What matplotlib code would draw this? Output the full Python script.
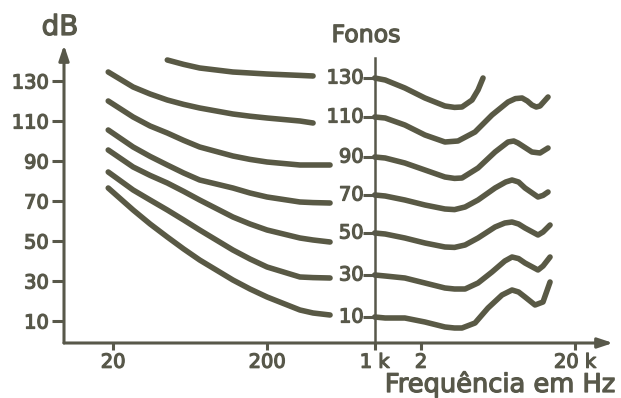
import numpy as np
import matplotlib
matplotlib.use("Agg")
import matplotlib.pyplot as plt
import matplotlib.patheffects as pe

ink = "#58584a"
curve_col = "#595945"

phons = [130, 110, 90, 70, 50, 30, 10]

# left branch (below 1 kHz), shared frequency grid
freq_low = [18.6, 27, 34.8, 45, 57.5, 73, 120, 155, 200, 327, 398, 513]
low_130 = [np.nan, np.nan, np.nan, 140.5, 138.3, 136.5, 134.5, 134, 133.5, 132.8, 132.5, np.nan]
low_110 = [134.5, 127, 123.5, 120.5, 118.3, 116.5, 113.5, 112.4, 111.5, 110, 109, np.nan]
low_90 = [120, 112, 107.5, 104, 100.3, 97, 92.5, 90.8, 89.5, 88, 88, 88]
low_70 = [105.5, 97, 92.3, 88, 84, 80.5, 76.5, 74, 72, 69.5, 69.2, 69]
low_50 = [95.5, 87, 82.8, 79, 74.8, 70.5, 62, 58.5, 55.5, 51.5, 50.5, 49.5]
low_30 = [84.5, 75.5, 70.5, 65.5, 60.5, 55.5, 45.5, 41, 37, 32, 31.7, 31.5]
low_10 = [76.5, 65.5, 58.5, 52, 46, 40.5, 30.5, 26, 22, 15.5, 14, 13]

# right branch (from 1 kHz up)
hf_130 = [1000, 1170, 1570, 2120, 2500, 2860, 3300, 3690, 4290, 4690, 5055]
hi_130 = [131.5, 130.5, 126.5, 121.5, 119.3, 117.5, 116.8, 117, 120.5, 125.5, 131.5]
hf_110 = [1000, 1170, 1570, 2120, 2860, 3475, 4484, 5780, 7345, 8200, 9060, 9800,
          10500, 11200, 11850, 13360]
hi_110 = [112, 111.5, 108, 103, 99.5, 100, 104.5, 113, 119.5, 121.2, 121.5, 120,
          118, 117, 117.5, 122]
hf_90 = [1000, 1170, 1570, 2120, 2860, 3300, 3690, 4690, 6050, 7345, 8000, 8530,
         10500, 11850, 13360]
hi_90 = [92, 91.5, 89, 85.5, 82, 81.3, 81.5, 86.5, 94.5, 99.5, 100, 99,
         94.5, 94, 96.5]
hf_70 = [1000, 1170, 1570, 2120, 2860, 3300, 3864, 4690, 6050, 7100, 7800, 8600,
         9470, 11500, 12400, 13360]
hi_70 = [73, 72.5, 70.5, 68, 66, 65.7, 67, 70.5, 76.5, 79.5, 80.5, 79.5,
         76.5, 72, 72.8, 74.5]
hf_50 = [1000, 1170, 1570, 2120, 2860, 3300, 3864, 4690, 6050, 7000, 7800, 8600,
         9470, 11500, 12400, 13770]
hi_50 = [54, 53.5, 51.5, 49, 47, 46.8, 48, 51.5, 57, 59, 59.5, 58.5,
         56.5, 53, 54.5, 58]
hf_30 = [1000, 1170, 1570, 2120, 2860, 3300, 3864, 4690, 5780, 7000, 7800, 8600,
         9470, 11500, 12400, 13770]
hi_30 = [33, 32.5, 31.5, 29, 26.5, 26, 26, 29, 34.5, 40, 42, 41.2,
         39, 35.5, 37.5, 42]
hf_10 = [1000, 1170, 1570, 2120, 2860, 3300, 3690, 4484, 5445, 6714, 7800, 8600,
         9470, 11000, 12390, 13770]
hi_10 = [12, 11.5, 11.5, 9.5, 7, 6.5, 6.5, 9, 16.5, 23, 25.5, 24.5,
         22, 18, 19.5, 29.5]

lows = [low_130, low_110, low_90, low_70, low_50, low_30, low_10]
highs = [(hf_130, hi_130), (hf_110, hi_110), (hf_90, hi_90), (hf_70, hi_70),
         (hf_50, hi_50), (hf_30, hi_30), (hf_10, hi_10)]

yticks = [10, 30, 50, 70, 90, 110, 130]
xticks = [20, 200, 1000, 2000, 20000]
xlabels = ["20", "200", "1 k", "2", "20 k"]

plt.rcParams["font.family"] = ["DejaVu Sans"]
# slightly heavier than regular, like the printed original
heavy = [pe.withStroke(linewidth=0.9, foreground=ink)]

fig = plt.figure(figsize=(6.21, 3.98), dpi=100)
ax = fig.add_axes([64 / 621, 55 / 398, 549 / 621, 298 / 398])
ax.set_xscale("log")
ax.set_xlim(9.6, 35300)
ax.set_ylim(-1, 148)

for low, (hf, hi) in zip(lows, highs):
    ax.plot(freq_low, low, color=curve_col, lw=4.0, solid_capstyle="round",
            solid_joinstyle="round")
    ax.plot(hf, hi, color=curve_col, lw=4.0, solid_capstyle="round",
            solid_joinstyle="round")

# phon scale on the 1 kHz axis
ax.axvline(1000, ymin=0, ymax=0.956, color=ink, lw=1.8)
for p, (hf, hi) in zip(phons, highs):
    ax.plot([1000], [hi[0]], marker=0, ms=9, mew=2.2, color=ink)
    ax.annotate(str(p), (1000, hi[0]), xytext=(-8, 0), textcoords="offset points",
                ha="right", va="center", fontsize=14, color=ink, path_effects=heavy)

for s in ax.spines.values():
    s.set_visible(False)
arrow = dict(arrowstyle="-|>,head_length=0.9,head_width=0.3", lw=2.2,
             color=ink, shrinkA=0, shrinkB=0)
ax.annotate("", xy=(0, 1), xytext=(0, 0), xycoords="axes fraction", arrowprops=arrow)
ax.annotate("", xy=(1, 0), xytext=(0, 0), xycoords="axes fraction", arrowprops=arrow)

ax.set_yticks(yticks)
ax.set_yticklabels([str(v) for v in yticks])
ax.set_xticks(xticks)
ax.set_xticklabels(xlabels)
ax.minorticks_off()
ax.tick_params(axis="y", direction="out", length=9, width=2.2, color=ink,
               labelcolor=ink, labelsize=14, pad=2)
ax.tick_params(axis="x", direction="out", length=5, width=2.2, color=ink,
               labelcolor=ink, labelsize=14, pad=2)
for t in ax.get_xticklabels() + ax.get_yticklabels():
    t.set_path_effects(heavy)

fig.text(60 / 621, 1 - 27 / 398, "dB", ha="center", va="center", fontsize=20,
         color=ink, path_effects=heavy)
fig.text(366 / 621, 1 - 35 / 398, "Fonos", ha="center", va="center", fontsize=17,
         color=ink, path_effects=heavy)
fig.text(616 / 621, 1 - 384 / 398, "Frequência em Hz", ha="right", va="center",
         fontsize=18.5, color=ink, path_effects=heavy)

fig.savefig("out.png", dpi=100)
